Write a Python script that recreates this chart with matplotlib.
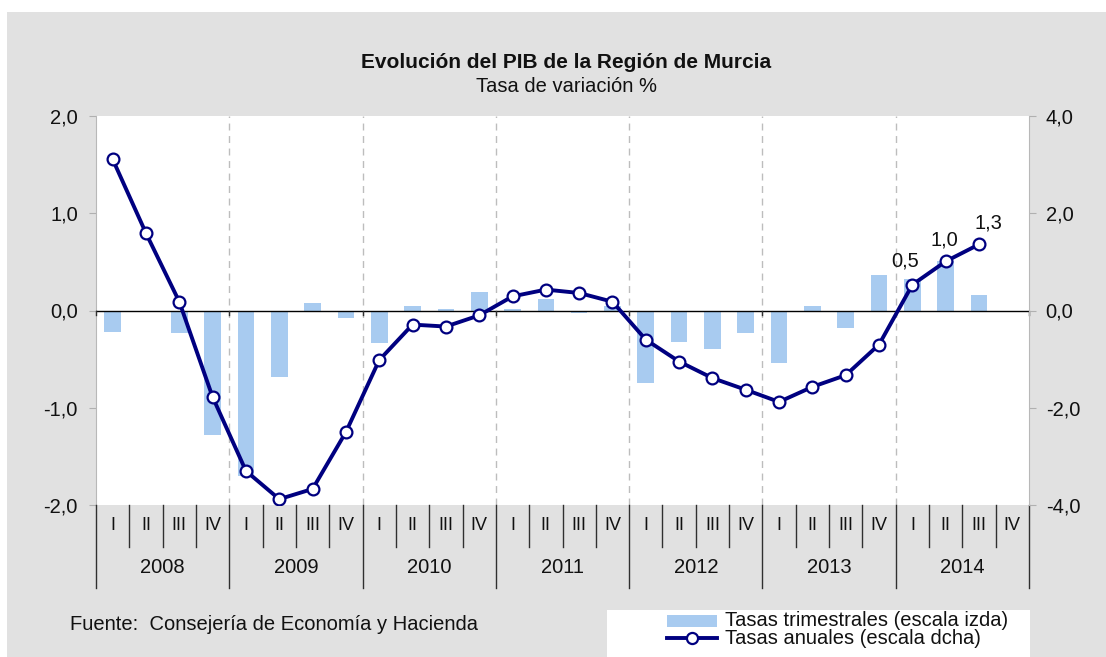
import matplotlib
matplotlib.use("Agg")
import matplotlib.pyplot as plt
from matplotlib.patches import Rectangle
from matplotlib.lines import Line2D
from matplotlib.ticker import FuncFormatter
import matplotlib.transforms as mtransforms
import numpy as np

plt.rcParams['font.family'] = ['Liberation Sans', 'DejaVu Sans']

# ---- data ----
years = ["2008", "2009", "2010", "2011", "2012", "2013", "2014"]
quarters = ["I", "II", "III", "IV"]
tasas_trimestrales = [-0.22, 0.0, -0.23, -1.28,
                      -1.70, -0.68, 0.075, -0.08,
                      -0.33, 0.045, 0.02, 0.195,
                      0.02, 0.12, -0.025, 0.045,
                      -0.75, -0.32, -0.40, -0.23,
                      -0.54, 0.045, -0.18, 0.366,
                      0.32, 0.51, 0.16, None]
tasas_anuales = [3.11, 1.59, 0.18, -1.78,
                 -3.30, -3.88, -3.67, -2.50,
                 -1.02, -0.29, -0.33, -0.10,
                 0.29, 0.43, 0.36, 0.18,
                 -0.60, -1.05, -1.39, -1.63,
                 -1.88, -1.57, -1.33, -0.70,
                 0.53, 1.01, 1.36, None]
etiquetas_finales = ["0,5", "1,0", "1,3"]
left_ticks = [-2.0, -1.0, 0.0, 1.0, 2.0]
right_ticks = [-4.0, -2.0, 0.0, 2.0, 4.0]

title = "Evolución del PIB de la Región de Murcia"
subtitle = "Tasa de variación %"
fuente = "Fuente:  Consejería de Economía y Hacienda"
leg_bar = "Tasas trimestrales (escala izda)"
leg_line = "Tasas anuales (escala dcha)"

FS = 14.5

# ---- figure ----
W, H = 1106, 657
fig = plt.figure(figsize=(W / 100, H / 100), dpi=100, facecolor="white")
GRAY = "#E1E1E1"
fig.patches.append(Rectangle((7 / W, 0), 1 - 7 / W, (H - 12) / H,
                             transform=fig.transFigure, facecolor=GRAY,
                             edgecolor="none", zorder=-10))
fig.patches.append(Rectangle((607 / W, 0), 423 / W, 47 / H,
                             transform=fig.transFigure, facecolor="white",
                             edgecolor="none", zorder=-9))

def fx(px):
    return px / W

def fy(py):
    return 1 - py / H

ax = fig.add_axes([fx(96), fy(505), fx(1029) - fx(96), fy(116) - fy(505)])
ax.set_facecolor("white")
n = len(years) * len(quarters)
x = np.arange(n) + 0.5

bx = [xi for xi, v in zip(x, tasas_trimestrales) if v is not None]
bv = [v for v in tasas_trimestrales if v is not None]
ax.bar(bx, bv, width=0.5, color="#A8CBF0", zorder=2)
ax.set_xlim(0, n)
ax.set_ylim(-2, 2)
ax.axhline(0, color="black", lw=1.0, zorder=3)

for k in range(1, len(years)):
    ax.axvline(4 * k, color="#BDBDBD", lw=1.0, ls=(0, (5, 4)), zorder=1)
# small category ticks on the zero line at year boundaries
for k in range(0, len(years) + 1):
    ax.plot([4 * k, 4 * k], [0, -0.05], color="#303030", lw=1.0, zorder=3,
            clip_on=False)

ax.set_yticks(left_ticks)
fmt = FuncFormatter(lambda v, p: f"{v:.1f}".replace(".", ","))
ax.yaxis.set_major_formatter(fmt)
ax.tick_params(axis="y", length=5, color="#B0B0B0", labelsize=FS, pad=8,
               labelcolor="#111111")
ax.set_xticks([])
for s in ["top", "bottom"]:
    ax.spines[s].set_visible(False)
ax.spines["left"].set_color("#B8B8B8")
ax.spines["right"].set_visible(False)

ax2 = ax.twinx()
lx = [xi for xi, v in zip(x, tasas_anuales) if v is not None]
lv = [v for v in tasas_anuales if v is not None]
ax2.plot(lx, lv, color="#000080", lw=2.8, marker="o", markersize=8.5,
         markerfacecolor="white", markeredgecolor="#000080",
         markeredgewidth=1.6, zorder=5)
ax2.set_ylim(-4, 4)
ax2.set_yticks(right_ticks)
ax2.yaxis.set_major_formatter(fmt)
ax2.tick_params(axis="y", length=5, color="#B0B0B0", labelsize=FS, pad=7,
                labelcolor="#111111")
for s in ["top", "bottom", "left"]:
    ax2.spines[s].set_visible(False)
ax2.spines["right"].set_color("#B8B8B8")

offsets = [(-7, 24), (-1, 21), (9, 21)]
for lab, xi, v, (dx, dy) in zip(etiquetas_finales, lx[-3:], lv[-3:], offsets):
    ax2.annotate(lab, (xi, v), xytext=(dx, dy), textcoords="offset pixels",
                 ha="center", va="center", fontsize=FS, color="#111111")

# ---- category axis below ----
trans = mtransforms.blended_transform_factory(ax.transData, ax.transAxes)
q_h = 42 / 389
y_h = 83 / 389
for i in range(n + 1):
    bottom = -y_h if i % 4 == 0 else -q_h
    ax.plot([i, i], [0, bottom], transform=trans, color="#303030", lw=1.0,
            clip_on=False, zorder=4)
for i in range(n):
    ax.text(i + 0.5, -q_h / 2, quarters[i % 4], transform=trans, ha="center",
            va="center", fontsize=13, color="#111111")
for k, yr in enumerate(years):
    ax.text(4 * k + 2, -(q_h + y_h) / 2, yr, transform=trans, ha="center",
            va="center", fontsize=FS, color="#111111")

# ---- titles ----
fig.text(fx(566), fy(63), title, ha="center", va="center", fontsize=15,
         fontweight="bold", color="#111111")
fig.text(fx(566), fy(87), subtitle, ha="center", va="center", fontsize=FS,
         color="#111111")
fig.text(fx(70), fy(625), fuente, ha="left", va="center", fontsize=FS,
         color="#111111")

# ---- legend ----
fig.patches.append(Rectangle((fx(667), fy(627)), 50 / W, 12 / H,
                             transform=fig.transFigure, facecolor="#A8CBF0",
                             edgecolor="none", zorder=3))
fig.lines.append(Line2D([fx(667), fx(717)], [fy(638), fy(638)],
                        transform=fig.transFigure, color="#000080", lw=2.8))
fig.lines.append(Line2D([fx(692)], [fy(638)], transform=fig.transFigure,
                        marker="o", markersize=8, markerfacecolor="white",
                        markeredgecolor="#000080", markeredgewidth=1.6))
fig.text(fx(725), fy(621), leg_bar, ha="left", va="center", fontsize=FS,
         color="#111111")
fig.text(fx(725), fy(638), leg_line, ha="left", va="center", fontsize=FS,
         color="#111111")

fig.savefig("out.png", dpi=100, facecolor=fig.get_facecolor())
